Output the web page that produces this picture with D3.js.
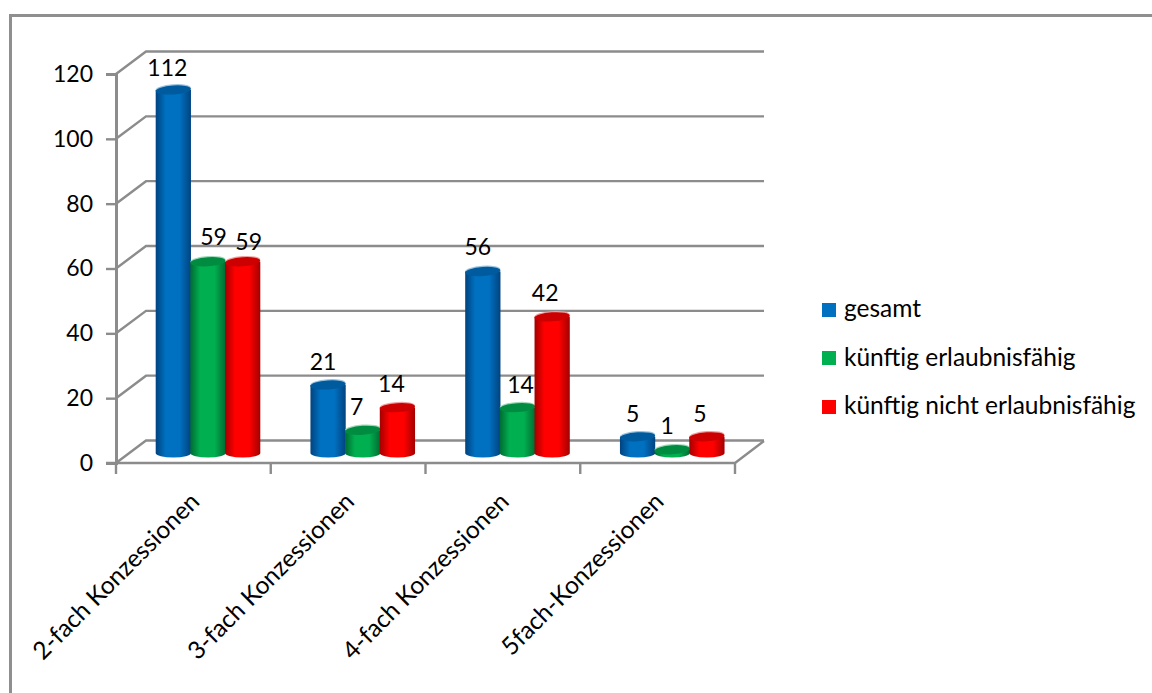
<!DOCTYPE html>
<html lang="de">
<head>
<meta charset="utf-8">
<style>
  html, body { margin: 0; padding: 0; background: #fff; }
  svg { display: block; }
  text { font-family: Lato, "Open Sans", sans-serif; fill: #000; }
</style>
<script src="https://cdn.jsdelivr.net/npm/d3@7/dist/d3.min.js"></script>
</head>
<body>
<svg id="chart" width="1152" height="693"></svg>
<script>
const categories = ["2-fach Konzessionen", "3-fach Konzessionen", "4-fach Konzessionen", "5fach-Konzessionen"];
const seriesNames = ["gesamt", "künftig erlaubnisfähig", "künftig nicht erlaubnisfähig"];
const gesamt = [112, 21, 56, 5];
const erlaubnisfaehig = [59, 7, 14, 1];
const nichtErlaubnisfaehig = [59, 14, 42, 5];
const yTicks = [0, 20, 40, 60, 80, 100, 120];
const seriesValues = [gesamt, erlaubnisfaehig, nichtErlaubnisfaehig];

const palette = [
  { edge: "#00437f", mid: "#0070c0", top: "#005a9e", halo: "#9cc3de" },
  { edge: "#006b32", mid: "#00b050", top: "#008c40", halo: "#9fd8b8" },
  { edge: "#a30000", mid: "#ff0000", top: "#cc0000", halo: "#efa0a0" }
];
const AXIS = "#8c8c8c";

const svg = d3.select("#chart");
const defs = svg.append("defs");
palette.forEach((p, i) => {
  const g = defs.append("linearGradient").attr("id", `cyl${i}`);
  [[0, p.edge], [0.28, p.mid], [0.68, p.mid], [1, p.edge]].forEach(([o, c]) =>
    g.append("stop").attr("offset", o).attr("stop-color", c));
});

// Front plane of the 3-D box; the back wall is shifted by depth.
const frontLeft = 116, frontRight = 735, frontBottom = 463, frontTop = 74;
const depth = { x: 30, y: -22 };

const y = d3.scaleLinear().domain([0, 120]).range([frontBottom, frontTop]);
const x0 = d3.scaleBand().domain(categories).range([frontLeft, frontRight]);
const x1 = d3.scaleBand().domain(d3.range(seriesNames.length))
  .range([40, 40 + 104]);

const backY = v => y(v) + depth.y;
const barBase = 453;
const barY = v => barBase - (y(0) - y(v));

// Frame around the chart area (top and left edges are what shows).
svg.append("path").attr("d", "M1152,15.5H10.5V693")
  .attr("fill", "none").attr("stroke", "#8f8f8f").attr("stroke-width", 3);

// Back-wall gridlines with their side-wall diagonals.
const grid = svg.append("g").attr("fill", "none").attr("stroke", AXIS).attr("stroke-width", 2.4);
yTicks.forEach(t => {
  grid.append("path").attr("d",
    `M${frontLeft},${y(t)}L${frontLeft + depth.x},${backY(t) - 0.5}H${frontRight + depth.x - 1}`);
});
// Floor front edge and right floor diagonal.
grid.append("path").attr("d",
  `M${frontLeft - 10},${y(0)}H${frontRight}L${frontRight + depth.x - 1},${backY(0)}`);

// Value axis with outward ticks.
const yAxisG = svg.append("g").attr("transform", `translate(${frontLeft},0)`)
  .call(d3.axisLeft(y).tickValues(yTicks).tickSize(10).tickPadding(13));
yAxisG.select(".domain").attr("stroke", AXIS).attr("stroke-width", 3);
yAxisG.selectAll(".tick line").attr("stroke", AXIS).attr("stroke-width", 2.4);
yAxisG.selectAll("text").attr("font-size", 23).attr("font-family", "Lato");

// Category tick marks below the floor edge.
const catEdges = categories.map(c => x0(c)).concat(frontRight);
svg.append("g").selectAll("line").data(catEdges).join("line")
  .attr("x1", d => d).attr("x2", d => d)
  .attr("y1", frontBottom).attr("y2", frontBottom + 11)
  .attr("stroke", AXIS).attr("stroke-width", 2.4);

// Cylinders: body with curved base, then a darker tilted cap with a pale rim behind it.
const rx = x1.bandwidth() / 2 + 0.3, ry = 4.5;
const tilt = -4;
const bars = svg.append("g");
categories.forEach((c, ci) => {
  seriesValues.forEach((vals, si) => {
    const v = vals[ci];
    const cx = x0(c) + x1(si) + x1.bandwidth() / 2;
    const top = barY(v);
    const g = bars.append("g");
    g.append("ellipse")
      .attr("cx", cx).attr("cy", top - 1.2)
      .attr("rx", rx).attr("ry", ry)
      .attr("transform", `rotate(${tilt} ${cx} ${top})`)
      .attr("fill", palette[si].halo);
    g.append("path")
      .attr("d", `M${cx - rx},${top}V${barBase}A${rx},${ry} 0 0 0 ${cx + rx},${barBase}V${top}Z`)
      .attr("fill", `url(#cyl${si})`);
    g.append("ellipse")
      .attr("cx", cx).attr("cy", top)
      .attr("rx", rx).attr("ry", ry)
      .attr("transform", `rotate(${tilt} ${cx} ${top})`)
      .attr("fill", palette[si].top);
  });
});

// Value labels above each cylinder; each has its own [dx, gap] placement.
const labelPlacement = [
  [[-6, 14], [5.5, 17], [6, 12]],
  [[-5, 15], [-6, 15], [-6, 16]],
  [[-5, 16], [3, 15], [-7, 16]],
  [[-5, 15], [-5, 16], [-7, 15]]
];
const labels = svg.append("g").attr("font-size", 23).attr("text-anchor", "middle");
categories.forEach((c, ci) => {
  seriesValues.forEach((vals, si) => {
    const cx = x0(c) + x1(si) + x1.bandwidth() / 2;
    const [dx, gap] = labelPlacement[ci][si];
    labels.append("text")
      .attr("x", cx + dx)
      .attr("y", barY(vals[ci]) - gap)
      .text(vals[ci]);
  });
});

// Rotated category labels ending just under the axis.
svg.append("g").selectAll("text").data(categories).join("text")
  .attr("transform", d => `translate(${x0(d) + 85},${frontBottom + 40}) rotate(-45)`)
  .attr("text-anchor", "end")
  .attr("font-size", 24.5)
  .text(d => d);

// Legend.
const legendSwatchTop = [303, 351, 400];
const legendBaseline = [317, 366, 414];
const legend = svg.append("g");
seriesNames.forEach((name, i) => {
  legend.append("rect").attr("x", 822).attr("y", legendSwatchTop[i])
    .attr("width", 14).attr("height", 14).attr("fill", palette[i].mid);
  legend.append("text").attr("x", 844).attr("y", legendBaseline[i])
    .attr("font-size", 24.5).text(name);
});
</script>
</body>
</html>
